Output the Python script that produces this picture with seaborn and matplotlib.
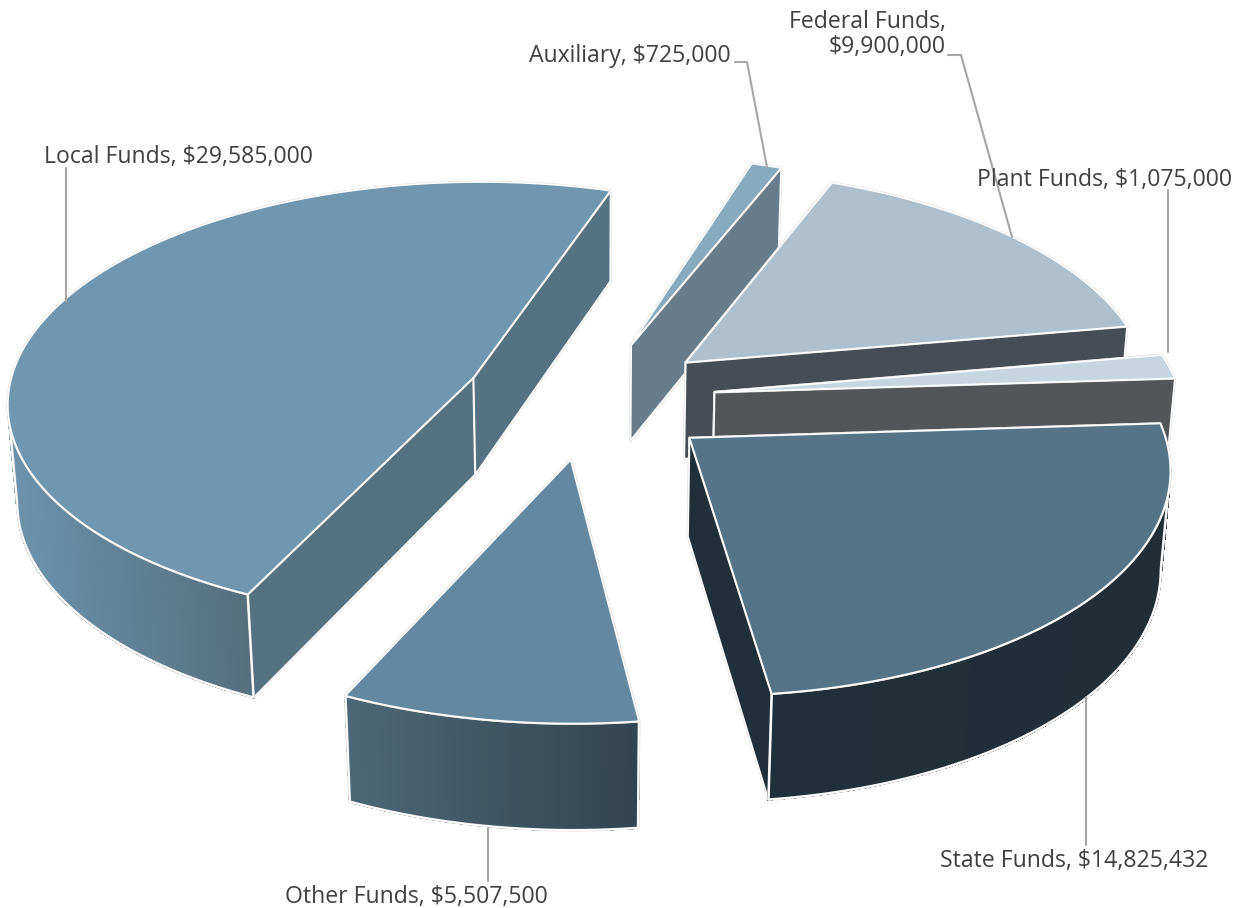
import numpy as np
import matplotlib
matplotlib.use("Agg")
import matplotlib.pyplot as plt
import matplotlib.patheffects as pe
import seaborn as sns
from matplotlib.collections import PolyCollection

# Slices in clockwise order, starting from the top
categories = ["Auxiliary", "Federal Funds", "Plant Funds", "State Funds", "Other Funds", "Local Funds"]
values = [725000, 9900000, 1075000, 14825432, 5507500, 29585000]
top_colors = ["#88AABF", "#AEC0CE", "#C7D6DE", "#557488", "#6488A0", "#7096B0"]
cut_colors = ["#687D8C", "#474D55", "#525659", "#212F38", "#33495A", "#557282"]
rim_left = ["#687D8C", "#474D55", "#525659", "#212F38", "#4C6877", "#6C92AC"]
rim_right = ["#687D8C", "#474D55", "#525659", "#222E36", "#324450", "#55707F"]

start_angle = 72
explode = 0.27

# projection of the tilted pie onto the page, in pixels
cx, cy = 590, 399.2
rx, ry = 467, 221
depth = 99
shear = 4
persp = 0.108
persp_z = 0.016


def project(u, v, z=0.0):
    w = 1 + persp * v + persp_z * z
    return np.column_stack([cx + (rx * u - shear * v) / w, cy + (-ry * v + depth * z) / w])


sns.set_theme(style="white")
plt.rcParams["font.family"] = ["Open Sans", "DejaVu Sans"]

fig, ax = plt.subplots(figsize=(12.49, 9.08), dpi=100)
ax.set_position([0, 0, 1, 1])
ax.set_xlim(0, 1249)
ax.set_ylim(908, 0)
ax.axis("off")

total = sum(values)
sweeps = np.array(values) / total * 360
ends = start_angle - np.cumsum(sweeps)
starts = ends + sweeps

halo = [pe.withStroke(linewidth=1.9, foreground="#DEDEDE")]
edge = dict(edgecolor="white", linewidth=1.2, joinstyle="round", path_effects=halo)


def draw_slice(i, zorder):
    t = np.radians(np.linspace(starts[i], ends[i], max(int(sweeps[i]) * 2, 8)))
    mid = np.radians((starts[i] + ends[i]) / 2)
    ox, oy = explode * np.cos(mid), explode * np.sin(mid)
    u, v = ox + np.cos(t), oy + np.sin(t)

    # the two straight cut faces, the rim and top hide the ones facing away
    for k in (0, -1):
        a = project(np.array([ox, u[k]]), np.array([oy, v[k]]))
        b = project(np.array([u[k], ox]), np.array([v[k], oy]), 1.0)
        face = np.vstack([a, b])
        ax.fill(face[:, 0], face[:, 1], facecolor=cut_colors[i], zorder=zorder, **edge)

    # outer rim with a left to right gradient, cut where the arc turns away
    top = project(u, v)
    bot = project(u, v, 1.0)
    idx = np.where(np.sin(t) < 0.12)[0]
    if len(idx) > 1:
        idx = idx[np.argmax(top[idx, 0]):]
    if len(idx) > 1:
        idx = idx[:np.argmin(top[idx, 0]) + 1]
    if len(idx) > 1:
        xmin, xmax = top[idx, 0].min(), top[idx, 0].max()
        pal = sns.blend_palette([rim_left[i], rim_right[i]], 64)
        outline = np.vstack([top[idx], bot[idx][::-1]])
        quads, cols = [], []
        for a, b in zip(idx[:-1], idx[1:]):
            quads.append([top[a], top[b], bot[b], bot[a]])
            pos = ((top[a, 0] + top[b, 0]) / 2 - xmin) / max(xmax - xmin, 1)
            cols.append(pal[min(int(pos * 64), 63)])
        ax.add_collection(PolyCollection(quads, facecolors=cols, edgecolors=cols, linewidths=1,
                                         antialiaseds=False, zorder=zorder + 0.1))
        ax.fill(outline[:, 0], outline[:, 1], fill=False, zorder=zorder + 0.2, **edge)

    # top face
    apex = project(np.array([ox]), np.array([oy]))
    poly = np.vstack([apex, top])
    ax.fill(poly[:, 0], poly[:, 1], facecolor=top_colors[i], zorder=zorder + 0.4, **edge)


# back slices first so the front ones sit over them
for z, name in enumerate(["Auxiliary", "Federal Funds", "Plant Funds", "Local Funds", "State Funds", "Other Funds"]):
    draw_slice(categories.index(name), z + 2)

# leader lines
leaders = {
    "Auxiliary": [(735, 62), (747, 62), (767, 167)],
    "Federal Funds": [(948, 55), (961, 55), (1012, 237)],
    "Plant Funds": [(1168, 190), (1168, 352)],
    "State Funds": [(1086, 697), (1086, 845)],
    "Other Funds": [(488, 828), (488, 881)],
    "Local Funds": [(66, 168), (66, 302)],
}
for pts in leaders.values():
    xs, ys = zip(*pts)
    ax.plot(xs, ys, color="#A6A6A6", lw=1.5, zorder=20, solid_joinstyle="miter")

# data labels
labels = {
    "Auxiliary": (630, 55.5, "center"),
    "Federal Funds": (946, 34.5, "right"),
    "Plant Funds": (1105, 180, "center"),
    "State Funds": (1074, 860.5, "center"),
    "Other Funds": (416, 897, "center"),
    "Local Funds": (178, 157.5, "center"),
}
for name, value in zip(categories, values):
    x, y, ha = labels[name]
    sep = ",\n" if name == "Federal Funds" else ", "
    ax.text(x, y, f"{name}{sep}${value:,}", ha=ha, va="center", ma="right", fontsize=16.6,
            color="#404040", zorder=30, linespacing=1.1)

fig.savefig("out.png", dpi=100)
